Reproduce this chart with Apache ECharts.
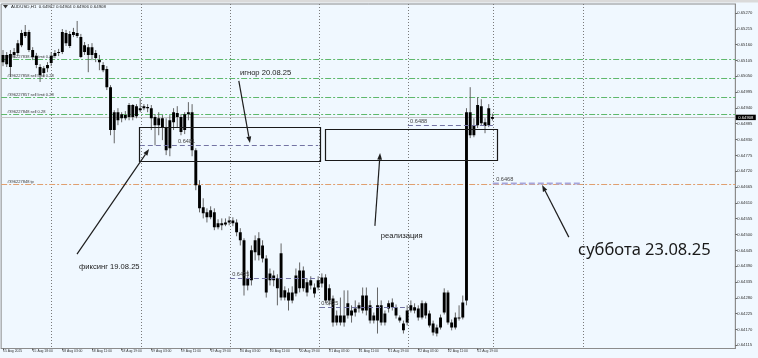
<!DOCTYPE html>
<html><head><meta charset="utf-8">
<script src="https://cdn.jsdelivr.net/npm/echarts@6/dist/echarts.min.js"></script>
<style>html,body{margin:0;padding:0;background:#F0F8FF}#c{width:758px;height:358px}</style>
</head><body><div id="c"></div>
<script>
// ---------- data ----------
const tickLabels = ["15 Aug 2025","15 Aug 18:00","18 Aug 03:00","18 Aug 11:00","18 Aug 19:00","19 Aug 03:00","19 Aug 11:00","19 Aug 19:00","20 Aug 03:00","20 Aug 11:00","20 Aug 19:00","21 Aug 03:00","21 Aug 11:00","21 Aug 19:00","22 Aug 03:00","22 Aug 11:00","22 Aug 19:00"];
const priceTicks = [0.65270,0.65215,0.65160,0.65105,0.65050,0.64995,0.64940,0.64885,0.64830,0.64775,0.64720,0.64665,0.64610,0.64555,0.64500,0.64445,0.64390,0.64335,0.64280,0.64225,0.64170,0.64115];
const barOpen = [0.65124,0.65092,0.65127,0.65124,0.65131,0.65158,0.65190,0.65204,0.65141,0.65120,0.65082,0.65061,0.65078,0.65096,0.65120,0.65131,0.65134,0.65200,0.65155,0.65193,0.65200,0.65186,0.65134,0.65151,0.65124,0.65131,0.65106,0.65089,0.65075,0.65012,
0.64863,0.64925,0.64904,0.64915,0.64908,0.64950,0.64911,0.64939,0.64939,0.64943,0.64939,0.64908,0.64880,0.64904,0.64873,0.64800,0.64890,0.64922,0.64908,0.64863,0.64918,0.64925,0.64793,0.64671,0.64595,0.64577,0.64560,0.64577,0.64525,0.64539,
0.64535,0.64542,0.64549,0.64542,0.64508,0.64480,0.64323,0.64341,0.64438,0.64428,0.64462,0.64417,0.64341,0.64358,0.64348,0.64281,0.64306,0.64299,0.64271,0.64295,0.64375,0.64313,0.64334,0.64323,0.64316,0.64316,0.64330,0.64351,0.64271,0.64278,
0.64194,0.64219,0.64194,0.64219,0.64236,0.64229,0.64243,0.64236,0.64288,0.64254,0.64201,0.64201,0.64254,0.64194,0.64243,0.64264,0.64247,0.64212,0.64191,0.64194,0.64236,0.64247,0.64243,0.64212,0.64261,0.64226,0.64191,0.64156,0.64177,0.64229,
0.64299,0.64194,0.64177,0.64212,0.64212,0.64271,0.64925,0.64845,0.64880,0.64946,0.64890,0.64880,0.64902];
const barClose = [0.65099,0.65124,0.65082,0.65134,0.65165,0.65200,0.65204,0.65141,0.65117,0.65089,0.65054,0.65078,0.65089,0.65120,0.65131,0.65134,0.65204,0.65165,0.65197,0.65204,0.65190,0.65117,0.65158,0.65124,0.65151,0.65113,0.65099,0.65071,0.65012,0.64863,
0.64925,0.64897,0.64918,0.64904,0.64950,0.64908,0.64946,0.64932,0.64946,0.64939,0.64904,0.64880,0.64904,0.64870,0.64793,0.64897,0.64925,0.64908,0.64856,0.64918,0.64925,0.64793,0.64671,0.64591,0.64574,0.64560,0.64584,0.64525,0.64539,0.64532,
0.64542,0.64549,0.64539,0.64508,0.64480,0.64323,0.64348,0.64445,0.64480,0.64487,0.64417,0.64299,0.64365,0.64341,0.64313,0.64435,0.64281,0.64271,0.64299,0.64358,0.64313,0.64375,0.64299,0.64341,0.64295,0.64341,0.64351,0.64271,0.64313,0.64194,
0.64219,0.64194,0.64219,0.64261,0.64219,0.64243,0.64254,0.64288,0.64236,0.64201,0.64219,0.64254,0.64194,0.64226,0.64261,0.64247,0.64219,0.64201,0.64167,0.64236,0.64254,0.64236,0.64212,0.64261,0.64219,0.64184,0.64160,0.64177,0.64212,0.64299,
0.64194,0.64177,0.64212,0.64208,0.64264,0.64925,0.64845,0.64880,0.64950,0.64887,0.64877,0.64939,0.64908];
const barHigh = [0.65141,0.65134,0.65141,0.65148,0.65176,0.65211,0.65228,0.65211,0.65151,0.65131,0.65092,0.65085,0.65099,0.65134,0.65141,0.65145,0.65214,0.65211,0.65207,0.65218,0.65242,0.65197,0.65169,0.65162,0.65165,0.65141,0.65124,0.65099,0.65085,0.65019,
0.64932,0.64939,0.64925,0.64929,0.64957,0.64953,0.64953,0.64974,0.64953,0.64953,0.64950,0.64918,0.64925,0.64915,0.64904,0.64915,0.64939,0.64946,0.64918,0.64925,0.64960,0.64953,0.64800,0.64689,0.64626,0.64591,0.64598,0.64591,0.64553,0.64556,
0.64556,0.64563,0.64560,0.64553,0.64522,0.64487,0.64375,0.64462,0.64497,0.64508,0.64480,0.64428,0.64382,0.64375,0.64362,0.64469,0.64320,0.64313,0.64320,0.64382,0.64403,0.64389,0.64348,0.64355,0.64330,0.64355,0.64365,0.64362,0.64327,0.64288,
0.64236,0.64281,0.64306,0.64306,0.64254,0.64271,0.64264,0.64316,0.64316,0.64271,0.64229,0.64316,0.64271,0.64236,0.64271,0.64278,0.64257,0.64219,0.64201,0.64254,0.64271,0.64261,0.64254,0.64271,0.64267,0.64236,0.64201,0.64187,0.64222,0.64313,
0.64306,0.64205,0.64229,0.64254,0.64288,0.64939,0.65012,0.64904,0.64977,0.64970,0.64904,0.64953,0.64920];
const barLow = [0.65085,0.65082,0.65047,0.65113,0.65120,0.65151,0.65183,0.65134,0.65106,0.65078,0.65030,0.65047,0.65064,0.65085,0.65113,0.65120,0.65127,0.65155,0.65148,0.65186,0.65183,0.65113,0.65124,0.65064,0.65106,0.65099,0.65071,0.65064,0.65002,0.64845,
0.64817,0.64880,0.64890,0.64897,0.64897,0.64897,0.64904,0.64925,0.64932,0.64925,0.64863,0.64810,0.64845,0.64828,0.64776,0.64772,0.64863,0.64870,0.64845,0.64849,0.64897,0.64772,0.64654,0.64577,0.64556,0.64542,0.64553,0.64515,0.64518,0.64515,
0.64529,0.64532,0.64529,0.64494,0.64462,0.64288,0.64306,0.64323,0.64410,0.64410,0.64403,0.64281,0.64323,0.64320,0.64254,0.64271,0.64271,0.64236,0.64261,0.64285,0.64299,0.64302,0.64285,0.64309,0.64281,0.64306,0.64316,0.64261,0.64254,0.64180,
0.64184,0.64184,0.64180,0.64208,0.64194,0.64215,0.64229,0.64226,0.64219,0.64191,0.64191,0.64156,0.64184,0.64184,0.64229,0.64236,0.64208,0.64194,0.64156,0.64184,0.64229,0.64226,0.64201,0.64205,0.64208,0.64177,0.64149,0.64146,0.64170,0.64222,
0.64187,0.64167,0.64170,0.64201,0.64205,0.64254,0.64835,0.64838,0.64870,0.64880,0.64852,0.64873,0.64896];

const chartTitle = "AUDUSD,H1  0.64902 0.64904 0.64906 0.64908";
const orderLevels = [0.65109, 0.65043, 0.64979, 0.64919];
const orderLabels = ["#396227838 sell limit 0.28","#396227858 sell limit 0.28","#396227857 sell limit 0.28","#396227848 sell 0.28"];
const tpLevel = 0.64677;
const tpLabel = "#396227848 tp";
const bidPrice = 0.64908;

// annotation anchors (bar index, price)
const dayLineBars = [12.9, 37.2, 61.2, 85.2, 109.2, 132.1, 156.4];
const segStartBar = [36.9, 109.2, 132.1, 61.2, 85.5];
const segEndBar   = [85.0, 132.7, 155.6, 84.4, 108.4];
const segPrice    = [0.64811, 0.64880, 0.64679, 0.64349, 0.64247];
const segLabelBar = [47.2, 109.8, 133.0, 61.8, 85.8];
const segLabels   = ["0.6481","0.6488","0.6468","0.6435","0.6425"];
const boxStartBar = [36.8, 86.8];
const boxEndBar   = [85.6, 133.1];
const boxTop      = [0.64873, 0.64866];
const boxBottom   = [0.64754, 0.64759];
const arrowFromBar = [19.96, 63.6, 100.3, 152.6];
const arrowFromPrice = [0.64432, 0.65034, 0.64530, 0.64491];
const arrowToBar = [39.4, 66.6, 101.7, 145.4];
const arrowToPrice = [0.64797, 0.64818, 0.64783, 0.64672];
const noteBar = [63.9, 20.5, 101.9, 155.1];
const notePrice = [0.65061, 0.64387, 0.64495, 0.64446];
const noteTexts = ["игнор 20.08.25","фиксинг 19.08.25","реализация","суббота 23.08.25"];

const yMin = 0.64104, yMax = 0.65301;

// ---------- chart ----------
const chart = echarts.init(document.getElementById('c'), null, {renderer:'canvas', width:758, height:358});
const tickBars = tickLabels.map((_, k) => k * 8);
const candleData = barOpen.map((o, i) => [i, o, barClose[i], barLow[i], barHigh[i]]);

const levelData = orderLevels.map(p => [0, p, 0]).concat([[0, tpLevel, 1], [0, bidPrice, 2]]);
const levelText = orderLabels.concat([tpLabel, ""]);

function arrowEls(p1, p2) {
  const dx = p2[0]-p1[0], dy = p2[1]-p1[1];
  const len = Math.hypot(dx, dy), ux = dx/len, uy = dy/len;
  const L = 6.5, W = 2.4;
  const bx = p2[0]-ux*L, by = p2[1]-uy*L;
  return [
    {type:'line', shape:{x1:p1[0], y1:p1[1], x2:bx, y2:by}, style:{stroke:'#1e1e1e', lineWidth:1.2}},
    {type:'polygon', shape:{points:[[p2[0],p2[1]],[bx-uy*W, by+ux*W],[bx+uy*W, by-ux*W]]}, style:{fill:'#1e1e1e'}}
  ];
}

const option = {
  animation: false,
  backgroundColor: '#F0F8FF',
  grid: {left: 1, right: 22.7, top: 4, bottom: 9.5, show: true, borderColor: '#8c8c8c', borderWidth: 1},
  xAxis: {
    type: 'value', min: -0.5, max: 197.5,
    axisLine: {show: true, onZero: false, lineStyle: {color: '#8c8c8c'}},
    axisTick: {show: true, customValues: tickBars, length: 2, lineStyle: {color: '#666'}},
    axisLabel: {customValues: tickBars, formatter: v => tickLabels[Math.round(v/8)], align: 'left',
      fontSize: 3.4, color: '#333', margin: 1.5, fontFamily: 'Liberation Sans'},
    splitLine: {show: false}
  },
  yAxis: {
    type: 'value', position: 'right', min: yMin, max: yMax, scale: true,
    axisLine: {show: true, onZero: false, lineStyle: {color: '#8c8c8c'}},
    axisTick: {show: true, customValues: priceTicks, length: 2, lineStyle: {color: '#666'}},
    axisLabel: {customValues: priceTicks, formatter: v => v.toFixed(5), fontSize: 4.2, color: '#333', margin: 2, fontFamily: 'Liberation Sans'},
    splitLine: {show: false}
  },
  graphic: [
    {type: 'rect', left: 0, top: 0, shape: {width: 758, height: 2.5}, style: {fill: '#dadada'}},
    {type: 'polygon', shape: {points: [[3,5],[8,5],[5.5,8.5]]}, style: {fill: '#333'}},
    {type: 'text', left: 11, top: 4.8, style: {text: chartTitle, font: '4.4px "Liberation Sans"', fill: '#222'}}
  ],
  series: [
    { // day separator lines
      type: 'custom', clip: false, encode: {x: 0},
      data: dayLineBars.map(b => [b]),
      renderItem: (params, api) => {
        const cs = params.coordSys;
        const x = Math.round(api.coord([api.value(0), yMin])[0]) + 0.5;
        return {type: 'line', shape: {x1: x, y1: cs.y, x2: x, y2: cs.y + cs.height},
          style: {stroke: '#7a7a7a', lineWidth: 1, lineDash: [1, 2]}};
      }
    },
    { // order / tp / bid levels
      type: 'custom', clip: false, encode: {x: 0, y: 1},
      data: levelData,
      renderItem: (params, api) => {
        const cs = params.coordSys;
        const y = Math.round(api.coord([0, api.value(1)])[1]) + 0.5;
        const k = api.value(2);
        const els = [];
        if (k === 2) {
          els.push({type: 'line', shape: {x1: cs.x, y1: y, x2: cs.x + cs.width, y2: y}, style: {stroke: '#c4c4c4', lineWidth: 1}});
          els.push({type: 'rect', shape: {x: cs.x + cs.width + 0.5, y: y - 2.8, width: 20, height: 5.4}, style: {fill: '#000'}});
          els.push({type: 'text', x: cs.x + cs.width + 10.5, y: y, style: {text: bidPrice.toFixed(5), fill: '#fff', font: '4.2px "Liberation Sans"', align: 'center', verticalAlign: 'middle'}});
        } else {
          const color = k === 0 ? '#5fb86c' : '#e0a070';
          els.push({type: 'line', shape: {x1: cs.x, y1: y, x2: cs.x + cs.width, y2: y}, style: {stroke: color, lineWidth: 1, lineDash: [6, 2, 2, 2]}});
          els.push({type: 'text', x: cs.x + 6, y: y - 0.8, style: {text: levelText[params.dataIndex], fill: '#333', font: '4px "Liberation Sans"', align: 'left', verticalAlign: 'bottom'}});
        }
        return {type: 'group', children: els};
      }
    },
    { // candles
      type: 'custom', clip: true, encode: {x: 0, y: [1, 2, 3, 4]},
      data: candleData,
      renderItem: (params, api) => {
        const i = api.value(0);
        const pO = api.coord([i, api.value(1)]), pC = api.coord([i, api.value(2)]);
        const pL = api.coord([i, api.value(3)]), pH = api.coord([i, api.value(4)]);
        const x = pO[0];
        const bw = 2.9;
        const top = Math.min(pO[1], pC[1]), bot = Math.max(pO[1], pC[1]);
        return {type: 'group', children: [
          {type: 'line', shape: {x1: x, y1: pH[1], x2: x, y2: pL[1]}, style: {stroke: '#555', lineWidth: 0.9}},
          {type: 'rect', shape: {x: x - bw/2, y: top, width: bw, height: Math.max(1, bot - top)}, style: {fill: '#000'}}
        ]};
      }
    },
    { // dashed price segments
      type: 'custom', clip: false, encode: {x: 0, y: 2},
      data: segStartBar.map((s, k) => [s, segEndBar[k], segPrice[k], segLabelBar[k]]),
      renderItem: (params, api) => {
        const k = params.dataIndex;
        const p1 = api.coord([api.value(0), api.value(2)]);
        const p2 = api.coord([api.value(1), api.value(2)]);
        const pl = api.coord([api.value(3), api.value(2)]);
        const y = Math.round(p1[1]) + 0.5;
        const lav = k === 2;
        return {type: 'group', children: [
          {type: 'line', shape: {x1: p1[0], y1: y, x2: p2[0], y2: y},
            style: {stroke: lav ? '#a6a6dc' : '#7474a4', lineWidth: lav ? 2 : 1, lineDash: lav ? [6, 3] : [5, 3]}},
          {type: 'text', x: pl[0], y: y - 1.2, style: {text: segLabels[k], fill: '#444', font: '5.6px "Liberation Sans"', align: 'left', verticalAlign: 'bottom'}}
        ]};
      }
    },
    { // rectangles
      type: 'custom', clip: false, encode: {x: 0, y: 2},
      data: boxStartBar.map((s, k) => [s, boxEndBar[k], boxTop[k], boxBottom[k]]),
      renderItem: (params, api) => {
        const a = api.coord([api.value(0), api.value(2)]);
        const b = api.coord([api.value(1), api.value(3)]);
        return {type: 'rect', shape: {x: Math.round(a[0]) + 0.5, y: Math.round(a[1]) + 0.5, width: Math.round(b[0] - a[0]), height: Math.round(b[1] - a[1])},
          style: {fill: 'none', stroke: '#1a1a1a', lineWidth: 1.2}};
      }
    },
    { // arrows
      type: 'custom', clip: false, encode: {x: 0, y: 1},
      data: arrowFromBar.map((b, k) => [b, arrowFromPrice[k], arrowToBar[k], arrowToPrice[k]]),
      renderItem: (params, api) => {
        const p1 = api.coord([api.value(0), api.value(1)]);
        const p2 = api.coord([api.value(2), api.value(3)]);
        return {type: 'group', children: arrowEls(p1, p2)};
      }
    },
    { // notes
      type: 'custom', clip: false, encode: {x: 0, y: 1},
      data: noteBar.map((b, k) => [b, notePrice[k]]),
      renderItem: (params, api) => {
        const k = params.dataIndex;
        const p = api.coord([api.value(0), api.value(1)]);
        const big = k === 3;
        return {type: 'text', x: p[0], y: p[1], style: {text: noteTexts[k], fill: '#1a1a1a',
          font: big ? '16.5px "Noto Sans"' : '7.6px "Liberation Sans"', align: 'left', verticalAlign: 'middle'}};
      }
    }
  ]
};
chart.setOption(option);
</script>
</body></html>
